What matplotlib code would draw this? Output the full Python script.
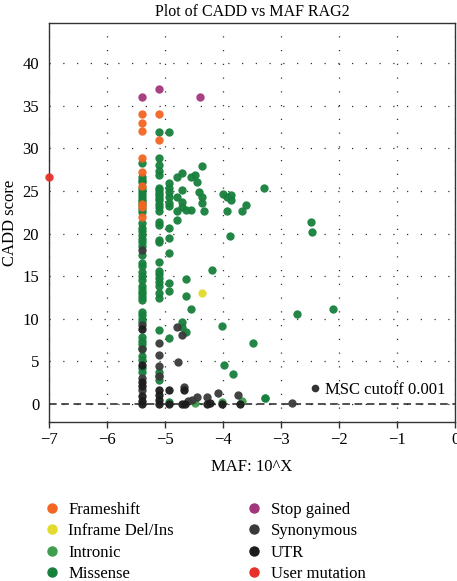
import matplotlib
matplotlib.use("Agg")
import matplotlib.pyplot as plt
from matplotlib.lines import Line2D

plt.rcParams['font.family'] = ['Liberation Serif', 'DejaVu Serif']

# ---------------- data ----------------
categories = ["Frameshift", "Inframe Del/Ins", "Intronic", "Missense",
              "Stop gained", "Synonymous", "UTR", "User mutation"]
colors = ["#F26522", "#E2DB2C", "#3E9E4E", "#17803D",
          "#A3357A", "#3A3A3A", "#1C1C1C", "#E8302A"]

frameshift_x = [-5.40] * 9 + [-5.10, -5.10]
frameshift_y = [34.0, 33.0, 32.0, 28.9, 27.2, 25.6, 23.5, 23.1, 22.0, 34.0, 31.0]

inframe_x = [-4.37]
inframe_y = [13.0]

intronic_x = [-4.48, -4.02, -3.68, -3.27, -5.40, -5.40]
intronic_y = [0.05, 0.2, 0.3, 0.74, 12.9, 13.5]

missense_colA_y = [28.3, 26.7, 26.3, 26.0, 25.4, 25.0, 24.6, 24.3, 24.0, 23.7, 23.3,
                   22.9, 22.5, 21.2, 20.7, 20.3, 19.8, 19.4, 19.0, 18.5, 17.5, 16.5,
                   16.2, 15.5, 15.0, 14.6, 13.8, 13.2, 12.6, 12.2, 10.8, 10.4, 10.0,
                   9.6, 7.8, 7.4, 7.0, 6.6, 5.6, 5.2, 4.2, 3.8]
missense_colB_y = [31.9, 28.9, 28.0, 27.4, 26.9, 25.4, 25.1, 24.8, 24.5, 24.2, 23.9,
                   23.5, 23.1, 22.6, 21.4, 21.0, 19.3, 19.0, 16.7, 15.6, 15.2, 14.8,
                   14.3, 13.9, 13.0, 12.4, 8.7, 3.8, 3.3, 2.8]
missense_colC_y = [31.9, 25.9, 25.4, 24.9, 24.3, 23.6, 23.2, 20.6, 19.5, 17.7, 14.2,
                   13.3, 7.7, 0.2]
missense_other_x = [-4.80, -4.70, -4.55, -4.49, -4.44, -4.37, -4.70, -4.41, -4.80,
                    -4.70, -4.37, -4.36, -4.70, -4.63, -4.55, -4.80, -4.80, -4.33,
                    -3.29, -4.00, -3.93, -3.86, -3.87, -3.60, -3.93, -3.67, -3.88,
                    -4.19, -2.49, -2.47, -2.11, -2.73, -4.02, -3.49, -3.99, -3.82,
                    -4.63, -4.63, -4.55, -4.70, -4.70, -4.63, -3.28]
missense_other_y = [26.7, 27.1, 26.7, 26.9, 26.1, 27.9, 25.1, 24.9, 24.3,
                    23.7, 24.3, 23.6, 23.1, 22.8, 22.8, 22.6, 21.6, 22.7,
                    25.3, 24.6, 24.3, 24.5, 24.0, 23.4, 22.6, 22.6, 19.7,
                    15.7, 21.4, 20.2, 11.2, 10.5, 9.2, 7.1, 4.6, 3.5,
                    14.7, 12.7, 11.1, 9.65, 9.05, 8.4, 0.74]
missense_x = ([-5.40] * len(missense_colA_y) + [-5.10] * len(missense_colB_y)
              + [-4.93] * len(missense_colC_y) + missense_other_x)
missense_y = missense_colA_y + missense_colB_y + missense_colC_y + missense_other_y

stop_x = [-5.40, -5.10, -4.40]
stop_y = [36.0, 37.0, 36.0]

synonymous_x = [-5.40, -5.40, -5.40, -5.40, -5.40, -5.10, -5.10, -5.10, -5.10,
                -4.80, -4.70, -4.78, -4.68, -4.44, -4.28, -4.09, -3.74, -4.54,
                -4.61, -2.81]
synonymous_y = [18.1, 9.3, 6.4, 3.0, 1.6, 7.1, 5.7, 4.4, 3.3,
                9.0, 8.1, 4.9, 2.0, 0.8, 0.8, 1.25, 1.0, 0.45,
                0.3, 0.15]

utr_x = [-5.40, -5.40, -5.40, -5.40, -5.40, -5.40, -5.40, -5.10, -5.10, -5.10,
         -5.10, -4.93, -4.93, -4.68, -4.70, -4.65, -4.27, -4.02, -3.70, -4.22]
utr_y = [8.8, 4.6, 2.6, 2.1, 0.9, 0.4, 0.0, 1.6, 1.0, 0.5, 0.0, 1.6, 0.0,
         1.6, 0.0, 0.0, 0.0, 0.0, 0.0, 0.08]

user_x = [-7.0]
user_y = [26.6]

series = {
    "Intronic": (intronic_x, intronic_y),
    "Missense": (missense_x, missense_y),
    "Synonymous": (synonymous_x, synonymous_y),
    "UTR": (utr_x, utr_y),
    "Frameshift": (frameshift_x, frameshift_y),
    "Inframe Del/Ins": (inframe_x, inframe_y),
    "Stop gained": (stop_x, stop_y),
    "User mutation": (user_x, user_y),
}

x_ticks = [-7, -6, -5, -4, -3, -2, -1, 0]
y_ticks = [0, 5, 10, 15, 20, 25, 30, 35, 40]
msc_label = "MSC cutoff 0.001"

# ---------------- figure ----------------
fig = plt.figure(figsize=(4.57, 5.81), dpi=100)
ax = fig.add_axes([0.107, 0.274, 0.889, 0.686])

cmap = dict(zip(categories, colors))
for name, (xs, ys) in series.items():
    ax.scatter(xs, ys, s=36, color=cmap[name], linewidths=0, alpha=0.95,
               zorder=3, clip_on=False)

ax.axhline(0, color="#222222", lw=1.1, ls=(0, (5, 3)), zorder=2)

ax.set_xlim(-7, 0)
ax.set_ylim(-2.1, 44.7)
ax.set_xticks(x_ticks)
ax.set_yticks(y_ticks)
ax.grid(True, color="#333333", lw=0.9, ls=(0, (1, 10)))
ax.set_axisbelow(True)
for sp in ax.spines.values():
    sp.set_color("#333333")
    sp.set_linewidth(1.0)
ax.tick_params(axis="x", direction="out", length=4, width=1, color="#333333",
               labelsize=12, pad=3)
ax.tick_params(axis="y", direction="out", length=0, labelsize=12, pad=7)

ax.set_title("Plot of CADD vs MAF RAG2", fontsize=11.5, pad=5)
ax.set_xlabel("MAF: 10^X", fontsize=12, labelpad=8)
ax.set_ylabel("CADD score", fontsize=12, labelpad=3)

msc_handle = Line2D([], [], marker="o", ls="none", color="#333333", markersize=4.5)
ax.legend([msc_handle], [msc_label], loc="lower right", frameon=False,
          fontsize=12, handletextpad=0.1, handlelength=1.0,
          bbox_to_anchor=(1.0, 0.035), borderaxespad=0.2)

handles = [Line2D([], [], marker="o", ls="none", color=c, markersize=6.5)
           for c in colors]
fig.legend(handles, categories, ncol=2, loc="upper left",
           bbox_to_anchor=(0.08, 0.148), frameon=False, fontsize=12,
           handlelength=1.0, handletextpad=0.5, columnspacing=4.3,
           labelspacing=0.33, borderaxespad=0.0)

fig.savefig("out.png", dpi=100)
